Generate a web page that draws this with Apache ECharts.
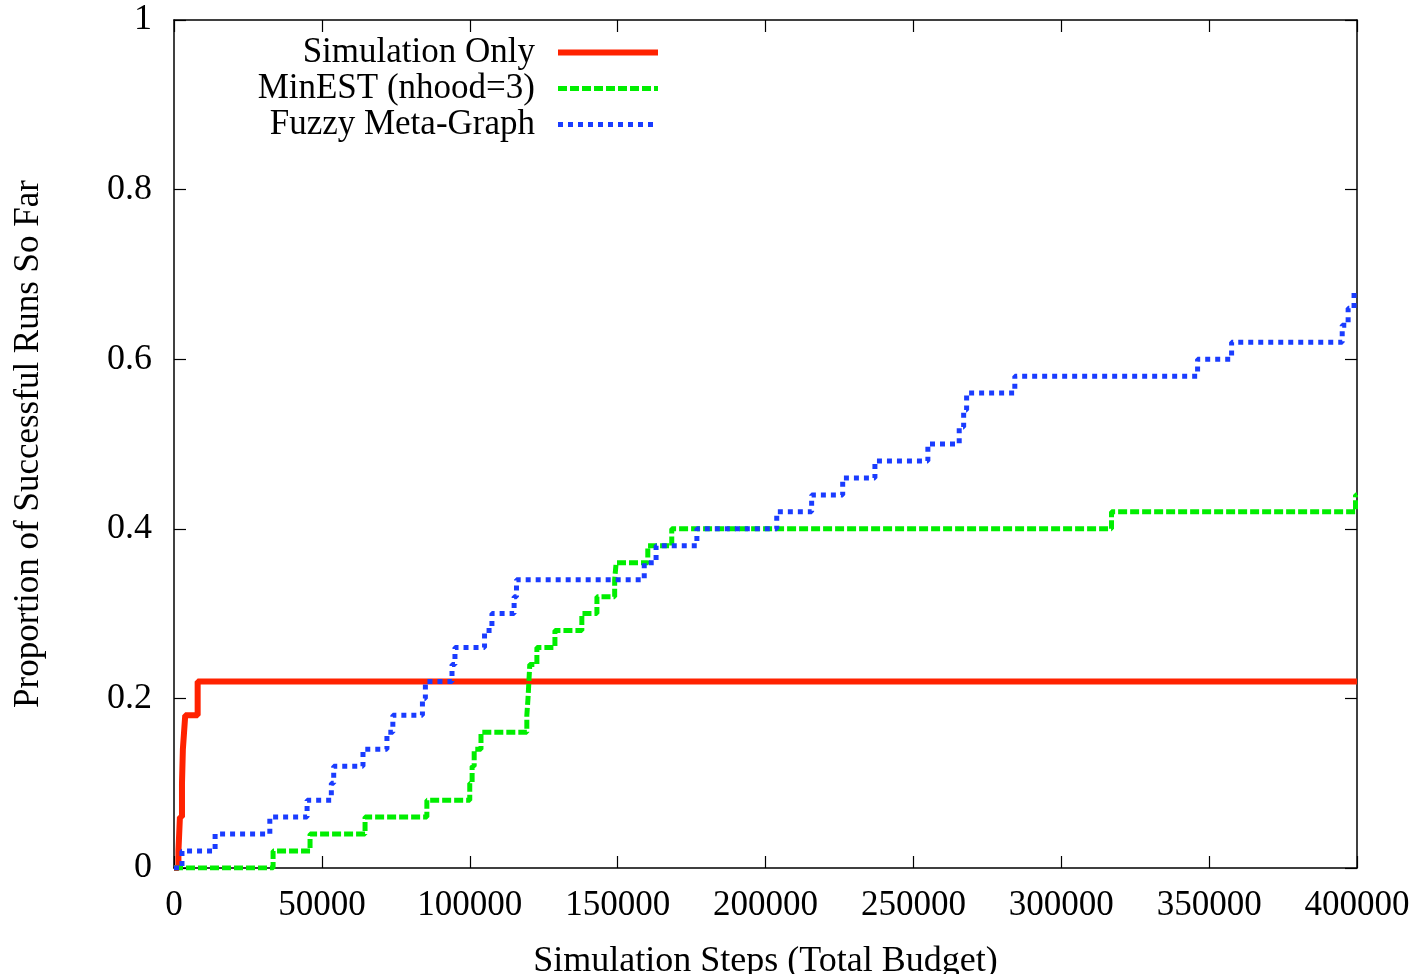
<!DOCTYPE html>
<html>
<head>
<meta charset="utf-8">
<script src="https://cdn.jsdelivr.net/npm/echarts@6/dist/echarts.min.js"></script>
<style>
html,body{margin:0;padding:0;background:#fff;}
#chart{width:1421px;height:974px;}
</style>
</head>
<body>
<div id="chart"></div>
<script>
// ---- data ----
const seriesNames = ['Simulation Only', 'MinEST (nhood=3)', 'Fuzzy Meta-Graph'];

const simSteps = [0, 1500, 2000, 2700, 3000, 3400, 3800, 8000, 400000];
const simVals  = [0, 0.02, 0.06, 0.10, 0.14, 0.16, 0.18, 0.22, 0.22];

const minestSteps = [0, 33500, 46000, 64600, 85500, 100000, 100800, 101500, 103800, 119300, 119700, 120000, 120300, 122700, 128800, 137900, 143000, 149000, 149500, 160200, 168300, 317000, 399500, 400000];
const minestVals  = [0, 0.02, 0.04, 0.06, 0.08, 0.10, 0.12, 0.14, 0.16, 0.18, 0.20, 0.22, 0.24, 0.26, 0.28, 0.30, 0.32, 0.34, 0.36, 0.38, 0.40, 0.42, 0.44, 0.44];

const fuzzySteps = [0, 2700, 13900, 32400, 45000, 53200, 54000, 63900, 72000, 74000, 84000, 85000, 94000, 95000, 105000, 107500, 115000, 115800, 159000, 163000, 176800, 203800, 215600, 226100, 237000, 254900, 265500, 267000, 268000, 284300, 346100, 357600, 395000, 397000, 399000, 400000];
const fuzzyVals  = [0, 0.02, 0.04, 0.06, 0.08, 0.10, 0.12, 0.14, 0.16, 0.18, 0.20, 0.22, 0.24, 0.26, 0.28, 0.30, 0.32, 0.34, 0.36, 0.38, 0.40, 0.42, 0.44, 0.46, 0.48, 0.50, 0.52, 0.54, 0.56, 0.58, 0.60, 0.62, 0.64, 0.66, 0.68, 0.68];

const xTickInterval = 50000;
const yTickInterval = 0.2;
const xAxisTitle = 'Simulation Steps (Total Budget)';
const yAxisTitle = 'Proportion of Successful Runs So Far';

// ---- chart ----
const zip = (xs, ys) => xs.map((x, i) => [x, ys[i]]);
const FONT = 'Liberation Serif';
const COLORS = ['#ff2200', '#00ee00', '#1a3cff'];
const chart = echarts.init(document.getElementById('chart'), null, {renderer: 'canvas'});

const baseX = {
  type: 'value', min: 0, max: 400000, interval: xTickInterval,
  axisLine: {show: true, onZero: false, lineStyle: {color: '#000', width: 1.5}},
  axisTick: {show: true, inside: true, length: 12, lineStyle: {color: '#000', width: 1.2}},
  splitLine: {show: false}
};
const baseY = {
  type: 'value', min: 0, max: 1, interval: yTickInterval,
  axisLine: {show: true, onZero: false, lineStyle: {color: '#000', width: 1.5}},
  axisTick: {show: true, inside: true, length: 12, lineStyle: {color: '#000', width: 1.2}},
  splitLine: {show: false}
};

chart.setOption({
  animation: false,
  backgroundColor: '#fff',
  grid: {left: 174, right: 64, top: 20, bottom: 106, containLabel: false, outerBoundsMode: 'none'},
  legend: {
    orient: 'vertical',
    right: 755, top: 30,
    align: 'right',
    itemWidth: 100, itemHeight: 20, itemGap: 1,
    itemStyle: {opacity: 0},
    textStyle: {fontFamily: FONT, fontSize: 35, color: '#000', lineHeight: 35, padding: [0, 18, 0, 0]},
    data: [
      {name: seriesNames[0], lineStyle: {width: 6, color: COLORS[0], type: 'solid'}},
      {name: seriesNames[1], lineStyle: {width: 5, color: COLORS[1], type: [9, 3]}},
      {name: seriesNames[2], lineStyle: {width: 5, color: COLORS[2], type: [5, 5]}}
    ]
  },
  xAxis: [
    Object.assign({}, baseX, {
      position: 'bottom',
      name: xAxisTitle, nameLocation: 'middle', nameGap: 76,
      nameTextStyle: {fontFamily: FONT, fontSize: 36, color: '#000'},
      axisLabel: {show: true, margin: 20, fontFamily: FONT, fontSize: 35, color: '#000',
        formatter: v => String(v)}
    }),
    Object.assign({}, baseX, {position: 'top', axisLabel: {show: false}})
  ],
  yAxis: [
    Object.assign({}, baseY, {
      position: 'left',
      name: yAxisTitle, nameLocation: 'middle', nameGap: 128, nameRotate: 90,
      nameTextStyle: {fontFamily: FONT, fontSize: 35, color: '#000'},
      axisLabel: {show: true, margin: 22, fontFamily: FONT, fontSize: 36, color: '#000',
        formatter: v => String(+v.toFixed(2))}
    }),
    Object.assign({}, baseY, {position: 'right', axisLabel: {show: false}})
  ],
  series: [
    {
      name: seriesNames[0], type: 'line', step: 'end', symbol: 'none', z: 2,
      data: zip(simSteps, simVals),
      lineStyle: {color: COLORS[0], width: 6, type: 'solid'},
      itemStyle: {color: COLORS[0]}
    },
    {
      name: seriesNames[1], type: 'line', step: 'end', symbol: 'none', z: 3,
      data: zip(minestSteps, minestVals),
      lineStyle: {color: COLORS[1], width: 5, type: [9, 3]},
      itemStyle: {color: COLORS[1]}
    },
    {
      name: seriesNames[2], type: 'line', step: 'end', symbol: 'none', z: 4,
      data: zip(fuzzySteps, fuzzyVals),
      lineStyle: {color: COLORS[2], width: 5, type: [5, 5]},
      itemStyle: {color: COLORS[2]}
    }
  ]
});
</script>
</body>
</html>
